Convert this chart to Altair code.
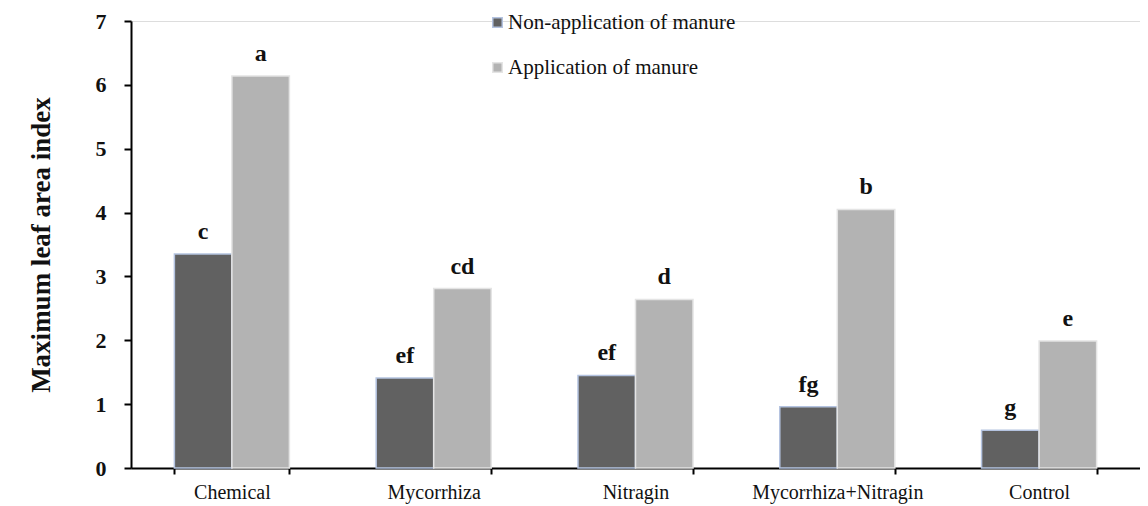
import altair as alt
import pandas as pd

categories = ["Chemical", "Mycorrhiza", "Nitragin", "Mycorrhiza+Nitragin", "Control"]
series = ["Non-application of manure", "Application of manure"]
non_manure = [3.35, 1.41, 1.45, 0.96, 0.59]
manure = [6.14, 2.81, 2.64, 4.05, 1.99]
letters_non = ["c", "ef", "ef", "fg", "g"]
letters_man = ["a", "cd", "d", "b", "e"]

rows = []
for i, c in enumerate(categories):
    rows.append({"cat": c, "series": series[0], "value": non_manure[i], "letter": letters_non[i]})
    rows.append({"cat": c, "series": series[1], "value": manure[i], "letter": letters_man[i]})
df = pd.DataFrame(rows)

FONT = "Liberation Serif, Times New Roman, serif"

x = alt.X("cat:N", sort=categories, title=None,
          scale=alt.Scale(paddingInner=0.43, paddingOuter=0.215),
          axis=alt.Axis(labelFont=FONT, labelFontSize=20, labelColor="#111111",
                        labelAngle=0, labelPadding=8, tickBand="extent",
                        ticks=True, tickSize=6, tickColor="black", tickWidth=2,
                        domainColor="black", domainWidth=2))
xo = alt.XOffset("series:N", sort=series, scale=alt.Scale(paddingInner=0, paddingOuter=0))
y = alt.Y("value:Q", title="Maximum leaf area index",
          scale=alt.Scale(domain=[0, 7], nice=False),
          axis=alt.Axis(values=[0, 1, 2, 3, 4, 5, 6, 7], format="d", grid=False,
                        labelFont=FONT, labelFontSize=22, labelFontWeight="bold",
                        labelColor="#111111", labelPadding=18, labelBaseline="middle",
                        tickSize=7, tickColor="black", tickWidth=2,
                        domainColor="black", domainWidth=2,
                        titleFont=FONT, titleFontSize=27, titleFontWeight="bold",
                        titleColor="#111111", titlePadding=40))

bars = alt.Chart(df).mark_bar(strokeWidth=1.5).encode(
    x=x, xOffset=xo, y=y,
    color=alt.Color("series:N", sort=series,
                    scale=alt.Scale(domain=series, range=["#616161", "#b3b3b3"]),
                    legend=alt.Legend(title=None, orient="none", legendX=356, legendY=-9,
                                      labelFont=FONT, labelFontSize=21, labelColor="#111111",
                                      labelLimit=400,
                                      symbolType="square", symbolSize=90, rowPadding=23,
                                      labelOffset=0, symbolStrokeWidth=1.5)),
    stroke=alt.Stroke("series:N", sort=series,
                      scale=alt.Scale(domain=series, range=["#b4c3e0", "#e4e4e4"]),
                      legend=None),
)

text = alt.Chart(df).mark_text(font=FONT, fontSize=24, fontWeight="bold", color="#111111",
                               baseline="alphabetic", dy=-15).encode(
    x=alt.X("cat:N", sort=categories), xOffset=alt.XOffset("series:N", sort=series),
    y="value:Q", text="letter:N")

chart = alt.layer(bars, text).properties(
    width=1009, height=447,
    autosize=alt.AutoSizeParams(type="none"),
    padding={"left": 123, "top": 13, "right": 0, "bottom": 36},
).configure_view(stroke=None).configure(background="white", font=FONT)

chart.save("out.html", embed_options={"renderer": "svg", "actions": False})
